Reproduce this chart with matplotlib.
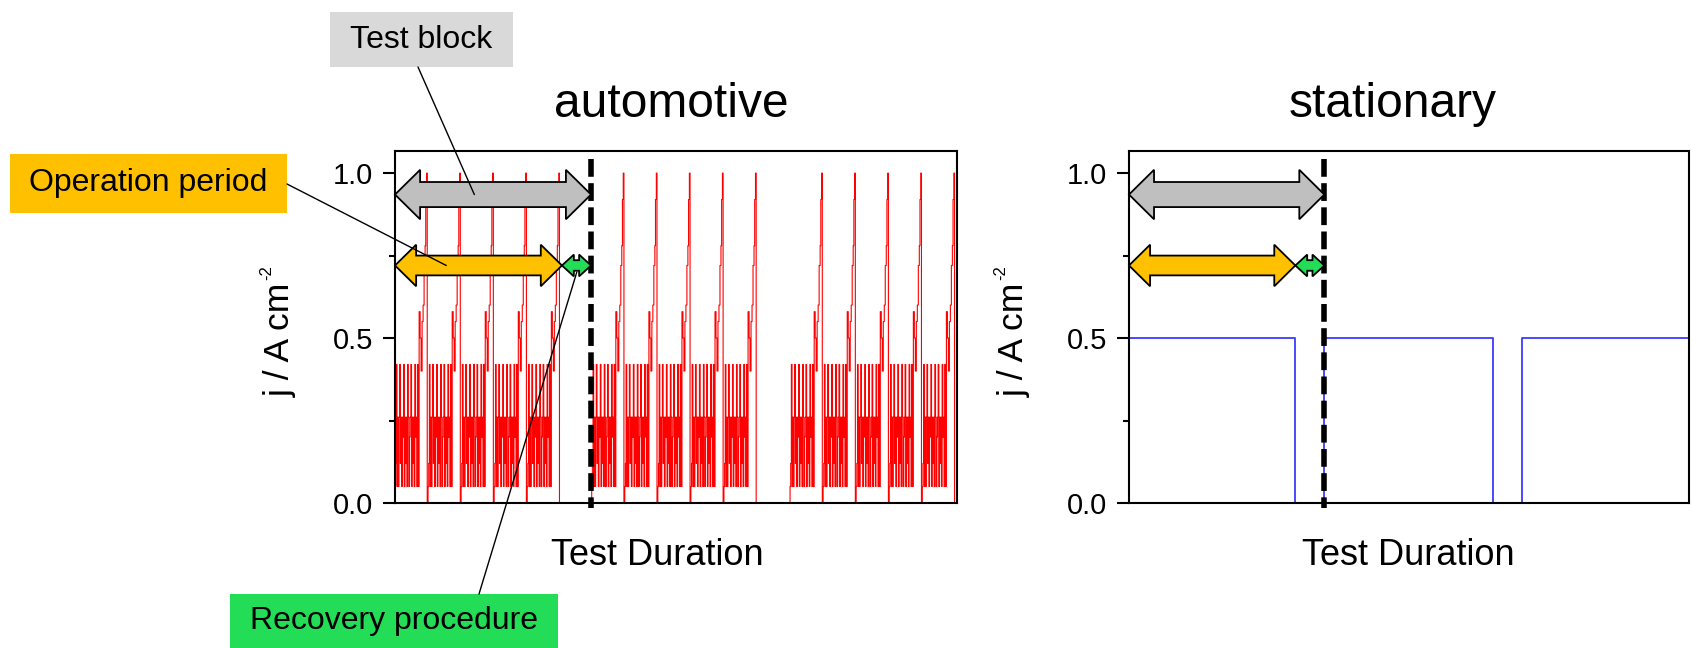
import matplotlib
matplotlib.use("Agg")
import matplotlib.pyplot as plt
from matplotlib.patches import Polygon, Rectangle, ConnectionPatch
from matplotlib.ticker import MultipleLocator
import numpy as np

plt.rcParams['font.family'] = ['Liberation Sans', 'DejaVu Sans']

# one load cycle of the automotive profile (time as fraction of a cycle, j in A/cm2)
cycle_t = [0.000, 0.020, 0.040, 0.060, 0.080, 0.100, 0.120, 0.140, 0.160, 0.180,
           0.200, 0.220, 0.240, 0.260, 0.280, 0.300, 0.320, 0.340, 0.360, 0.380,
           0.400, 0.420, 0.440, 0.460, 0.480, 0.500, 0.520, 0.540, 0.560, 0.580,
           0.600, 0.620, 0.640, 0.660, 0.680, 0.700, 0.730, 0.760, 0.790, 0.820,
           0.850, 0.880, 0.910, 0.930, 0.955, 0.975]
cycle_j = [0.05, 0.12, 0.42, 0.05, 0.26, 0.05, 0.26, 0.42, 0.12, 0.26,
           0.05, 0.26, 0.20, 0.42, 0.05, 0.26, 0.12, 0.26, 0.05, 0.42,
           0.26, 0.05, 0.20, 0.26, 0.42, 0.05, 0.26, 0.12, 0.26, 0.05,
           0.42, 0.20, 0.26, 0.05, 0.42, 0.05, 0.58, 0.50, 0.40, 0.55,
           0.60, 0.72, 0.78, 0.92, 1.00, 0.00]
block_starts = [0.0, 5.95, 11.95]
cycles_per_block = 5
t_end = 17.0

# stationary profile
stat_t = [0.0, 5.05, 5.93, 11.05, 11.93, 17.0]
stat_j = [0.5, 0.0, 0.5, 0.0, 0.5, 0.5]

# test block structure (first block)
block_end = 5.93
operation_end = 5.05
titles = ["automotive", "stationary"]

auto_t = []
auto_j = []
for b in block_starts:
    for k in range(cycles_per_block):
        auto_t += list(b + k + np.array(cycle_t))
        auto_j += cycle_j
auto_t.append(t_end)
auto_j.append(0.0)

W, H = 1692, 648
fig = plt.figure(figsize=(W / 100, H / 100), dpi=100)
ax1 = fig.add_axes([395 / W, 145 / H, 562 / W, 352 / H])
ax2 = fig.add_axes([1129 / W, 145 / H, 560 / W, 352 / H])

ax1.plot(auto_t, auto_j, drawstyle="steps-post", color="red", lw=0.8)
ax2.plot(stat_t, stat_j, drawstyle="steps-post", color="#3c3cff", lw=1.3)


def double_arrow(ax, x0, x1, yc, hl, hh, sh, color):
    pts = [(x0, yc), (x0 + hl, yc + hh), (x0 + hl, yc + sh), (x1 - hl, yc + sh),
           (x1 - hl, yc + hh), (x1, yc), (x1 - hl, yc - hh), (x1 - hl, yc - sh),
           (x0 + hl, yc - sh), (x0 + hl, yc - hh)]
    ax.add_patch(Polygon(pts, closed=True, facecolor=color, edgecolor="black",
                         lw=1.3, zorder=6, clip_on=False, joinstyle="miter"))


for ax, title in zip([ax1, ax2], titles):
    ax.set_xlim(0, t_end)
    ax.set_ylim(0, 1.067)
    ax.set_xticks([])
    ax.yaxis.set_major_locator(MultipleLocator(0.5))
    ax.yaxis.set_minor_locator(MultipleLocator(0.25))
    ax.yaxis.set_major_formatter(matplotlib.ticker.FormatStrFormatter("%.1f"))
    ax.tick_params(axis="y", which="major", length=8.5, width=1.5, labelsize=21, pad=7)
    ax.tick_params(axis="y", which="minor", length=4.5, width=1.5)
    for s in ax.spines.values():
        s.set_linewidth(1.5)
    # y label with a small superscript like the original slide
    ax.set_ylabel("j / A cm", fontsize=25.5, va="center", ha="center")
    ax.yaxis.set_label_coords(-0.204, 0.463)
    ax.text(-0.229, 0.633, "-2", fontsize=12, rotation=90, ha="center", va="bottom",
            transform=ax.transAxes)
    ax.set_xlabel("Test Duration", fontsize=26, va="center")

    # dashed end of the test block
    ax.plot([block_end, block_end], [1.042, -0.015], color="black", lw=4,
            dashes=(3.2, 1.15), solid_capstyle="butt", dash_capstyle="butt",
            zorder=5, clip_on=False)
    double_arrow(ax, 0.0, block_end, 0.935, 0.76, 0.075, 0.038, "#bfbfbf")
    double_arrow(ax, 0.0, operation_end, 0.72, 0.64, 0.063, 0.030, "#ffc000")
    double_arrow(ax, operation_end, block_end, 0.72, 0.36, 0.033, 0.016, "#22dd55")

ax1.xaxis.set_label_coords(0.466, -0.148)
ax2.xaxis.set_label_coords(0.498, -0.148)

fig.text(671 / W, 1 - 117 / H, titles[0], fontsize=34.5, ha="center", va="baseline")
fig.text(1393 / W, 1 - 117 / H, titles[1], fontsize=34.5, ha="center", va="baseline")


# callout boxes (pixel boxes from the top-left corner)
def callout(x0, x1, y0, y1, text, color):
    fig.add_artist(Rectangle((x0 / W, 1 - y1 / H), (x1 - x0) / W, (y1 - y0) / H,
                             transform=fig.transFigure, facecolor=color,
                             edgecolor="none", zorder=1))
    fig.text((x0 + x1) / 2 / W, 1 - (y0 + y1) / 2 / H, text, fontsize=23,
             ha="center", va="center", zorder=2)


def leader(xy_px, xy_data):
    fig.add_artist(ConnectionPatch(xyA=(xy_px[0] / W, 1 - xy_px[1] / H),
                                   coordsA=fig.transFigure, xyB=xy_data,
                                   coordsB=ax1.transData, color="black", lw=1.0,
                                   zorder=10))


callout(330, 513, 12, 67, "Test block", "#d9d9d9")
callout(10, 287, 154, 213, "Operation period", "#ffc000")
callout(230, 558, 594, 648, "Recovery procedure", "#22dd55")

leader((418, 67), (2.4, 0.935))
leader((287, 184), (1.55, 0.72))
leader((479, 594), (5.5, 0.70))

fig.savefig("out.png", dpi=100)
